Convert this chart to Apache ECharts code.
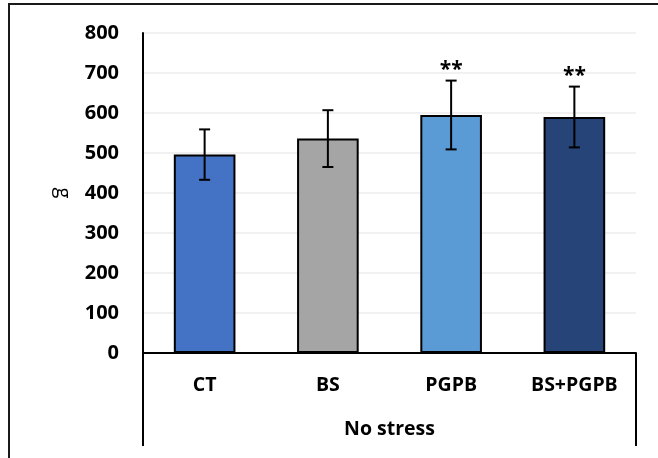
<!DOCTYPE html>
<html>
<head>
<meta charset="utf-8">
<script src="https://cdn.jsdelivr.net/npm/echarts@6/dist/echarts.min.js"></script>
<style>
  html, body { margin: 0; padding: 0; background: #fff; }
  #chart { width: 658px; height: 458px; }
</style>
</head>
<body>
<div id="chart"></div>
<script>
// values
const categories = ['CT', 'BS', 'PGPB', 'BS+PGPB'];
const means = [496, 536, 595, 590];
const errors = [63, 71, 86, 76];
const marks = ['', '', '**', '**'];
const groupLabel = ['No stress'];
const barColors = ['#4472C4', '#A5A5A5', '#5B9BD5', '#264478'];

const font = '"Open Sans", "Liberation Sans", sans-serif';

const chart = echarts.init(document.getElementById('chart'));

chart.setOption({
  animation: false,
  backgroundColor: '#fff',
  graphic: [{
    type: 'rect',
    shape: { x: 9, y: 4, width: 700, height: 500 },
    style: { fill: 'none', stroke: '#1a1a1a', lineWidth: 2 },
    z: 0,
  }],
  grid: { left: 143, right: 22, top: 33, bottom: 105, containLabel: false },
  xAxis: [{
    type: 'category',
    data: categories,
    position: 'bottom',
    axisLine: { show: true, onZero: false, lineStyle: { color: '#000', width: 2 } },
    axisTick: { show: false },
    axisLabel: { color: '#000', fontFamily: font, fontWeight: 'bold', fontSize: 19.5, margin: 22 },
    splitLine: { show: false },
  }, {
    type: 'category',
    data: groupLabel,
    position: 'bottom',
    axisLine: { show: false },
    axisTick: { show: true, length: 93, lineStyle: { color: '#000', width: 2 } },
    axisLabel: { color: '#000', fontFamily: font, fontWeight: 'bold', fontSize: 19.5, margin: 66 },
    splitLine: { show: false },
  }],
  yAxis: {
    type: 'value',
    min: 0,
    max: 800,
    interval: 100,
    name: 'g',
    nameLocation: 'middle',
    nameRotate: -90,
    nameGap: 70,
    nameTextStyle: { color: '#000', fontFamily: font, fontSize: 20 },
    axisLine: { show: true, lineStyle: { color: '#000', width: 2 } },
    axisTick: { show: false },
    axisLabel: { color: '#000', fontFamily: font, fontWeight: 'bold', fontSize: 20, margin: 24 },
    splitLine: { show: true, lineStyle: { color: '#ececec', width: 1.5 } },
  },
  series: [{
    type: 'bar',
    data: means.map((v, i) => ({ value: v, itemStyle: { color: barColors[i] } })),
    barWidth: '50%',
    itemStyle: { borderColor: '#000', borderWidth: 2 },
    z: 2,
  }, {
    type: 'custom',
    data: means.map((v, i) => [i, v, errors[i]]),
    z: 3,
    renderItem(params, api) {
      const i = api.value(0);
      const hi = api.coord([i, api.value(1) + api.value(2)]);
      const lo = api.coord([i, api.value(1) - api.value(2)]);
      const cap = 5.5;
      const line = { stroke: '#000', lineWidth: 2 };
      const children = [
        { type: 'line', shape: { x1: hi[0], y1: hi[1], x2: lo[0], y2: lo[1] }, style: line },
        { type: 'line', shape: { x1: hi[0] - cap, y1: hi[1], x2: hi[0] + cap, y2: hi[1] }, style: line },
        { type: 'line', shape: { x1: lo[0] - cap, y1: lo[1], x2: lo[0] + cap, y2: lo[1] }, style: line },
      ];
      if (marks[i]) {
        children.push({
          type: 'text',
          style: {
            text: marks[i], x: hi[0], y: hi[1],
            align: 'center', verticalAlign: 'bottom',
            fill: '#000', font: 'bold 21px ' + font,
          },
        });
      }
      return { type: 'group', children };
    },
  }],
});
</script>
</body>
</html>
